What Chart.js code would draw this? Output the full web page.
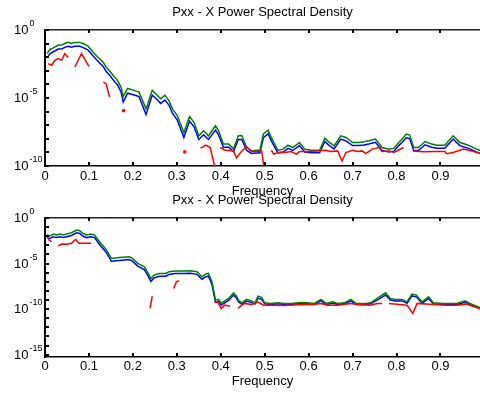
<!DOCTYPE html>
<html>
<head>
<meta charset="utf-8">
<title>Pxx - X Power Spectral Density</title>
<script src="https://cdn.jsdelivr.net/npm/chart.js@4.4.0/dist/chart.umd.min.js"></script>
<style>
  html, body { margin: 0; padding: 0; background: #fff; overflow: hidden; width: 480px; height: 395px; }
  canvas { position: absolute; left: 0; }
  #pxxTop { top: 0; }
  #pxxBottom { top: 188px; }
</style>
</head>
<body>
<canvas id="pxxTop" width="490" height="200"></canvas>
<canvas id="pxxBottom" width="490" height="207"></canvas>
<script>
/* ---- Data: values are log10 of the PSD ---- */

const CHART_TITLE = 'Pxx - X Power Spectral Density';
const X_TITLE = 'Frequency';
const X_MAX = 0.99;
const X_TICKS = [0, 0.1, 0.2, 0.3, 0.4, 0.5, 0.6, 0.7, 0.8, 0.9];
const TOP_Y_TICKS = [1e-10, 1e-5, 1];
const BOTTOM_Y_TICKS = [1e-15, 1e-10, 1e-5, 1];

// top panel
const topFreq = [
  0.005, 0.011, 0.019, 0.030, 0.038, 0.045, 0.053, 0.060, 0.068, 0.079,
  0.086, 0.098, 0.109, 0.120, 0.132, 0.139, 0.147, 0.158, 0.165, 0.173,
  0.178, 0.188, 0.203, 0.214, 0.230, 0.244, 0.256, 0.263, 0.273, 0.282,
  0.290, 0.301, 0.316, 0.329, 0.339, 0.350, 0.361, 0.372, 0.388, 0.395,
  0.406, 0.418, 0.429, 0.440, 0.448, 0.459, 0.470, 0.481, 0.489, 0.497,
  0.508, 0.515, 0.530, 0.542, 0.553, 0.564, 0.579, 0.591, 0.606, 0.625,
  0.637, 0.647, 0.658, 0.673, 0.685, 0.700, 0.715, 0.726, 0.737, 0.752,
  0.767, 0.783, 0.794, 0.805, 0.813, 0.822, 0.830, 0.839, 0.850, 0.865,
  0.880, 0.892, 0.910, 0.929, 0.944, 0.952, 0.967, 0.982, 0.993
];
const topGreen = [
  -1.73, -1.43, -1.31, -1.11, -1.11, -0.99, -0.91, -0.99, -0.91, -0.91,
  -0.99, -1.19, -1.61, -1.98, -2.35, -2.72, -3.01, -3.46, -3.70, -4.20,
  -4.90, -4.30, -4.44, -4.57, -5.80, -4.44, -4.81, -5.06, -4.81, -5.19,
  -5.80, -6.30, -7.53, -6.37, -6.79, -7.78, -7.41, -7.78, -7.04, -7.41,
  -8.39, -8.39, -8.74, -7.78, -7.78, -8.64, -8.89, -8.84, -8.84, -7.65,
  -7.36, -7.90, -8.84, -8.76, -8.47, -8.64, -8.27, -8.76, -8.84, -8.84,
  -7.95, -8.27, -8.52, -7.78, -7.90, -8.27, -8.27, -8.22, -8.15, -8.02,
  -8.64, -8.76, -8.69, -8.27, -8.02, -7.65, -7.73, -8.64, -8.64, -8.20,
  -8.39, -8.47, -8.47, -7.78, -8.27, -8.35, -8.52, -8.76, -8.89
];
const topBlue = [
  -2.05, -1.75, -1.60, -1.40, -1.40, -1.28, -1.20, -1.27, -1.20, -1.20,
  -1.28, -1.48, -1.90, -2.28, -2.66, -3.03, -3.32, -3.78, -4.02, -4.55,
  -5.30, -4.65, -4.78, -4.90, -6.22, -4.78, -5.15, -5.40, -5.15, -5.52,
  -6.12, -6.62, -7.90, -6.70, -7.12, -8.05, -7.70, -8.05, -7.35, -7.70,
  -8.62, -8.62, -8.95, -8.05, -8.05, -8.86, -9.08, -9.05, -9.05, -7.92,
  -7.62, -8.15, -9.03, -8.97, -8.70, -8.86, -8.50, -8.97, -9.03, -9.03,
  -8.20, -8.50, -8.74, -8.02, -8.15, -8.50, -8.50, -8.45, -8.38, -8.26,
  -8.86, -8.97, -8.91, -8.50, -8.26, -7.92, -7.98, -8.86, -8.86, -8.44,
  -8.62, -8.70, -8.70, -8.02, -8.50, -8.58, -8.74, -8.97, -9.10
];
// red has holes (null) where the estimate is not defined
const topRedFreq = [
  0.007, 0.015, 0.023, 0.030, 0.038, 0.045, 0.053, 0.060,
  0.068, 0.083, 0.100, 0.115,
  0.133, 0.139, 0.147, 0.160,
  0.179, 0.250,
  0.318, 0.335,
  0.354, 0.366, 0.376, 0.385, 0.391, 0.395,
  0.399, 0.410, 0.429, 0.436, 0.448, 0.459, 0.470, 0.485, 0.493, 0.497, 0.499, 0.505,
  0.515, 0.521, 0.530, 0.546, 0.560, 0.572, 0.579, 0.598, 0.621, 0.637,
  0.651, 0.666, 0.676, 0.685, 0.700, 0.711, 0.722, 0.730, 0.745, 0.760,
  0.767, 0.783, 0.794, 0.816, 0.826,
  0.837, 0.862, 0.884, 0.910, 0.914, 0.929, 0.944, 0.952, 0.971, 0.982, 0.993
];
const topRed = [
  -2.47, -2.59, -2.22, -2.10, -2.22, -1.73, -2.02, null,
  -2.72, -1.73, -2.67, null,
  -3.83, -3.95, -4.94, null,
  -5.93, null,
  -8.96, null,
  -8.69, -8.47, -8.64, -9.87, -10.74, null,
  -8.64, -8.84, -8.89, -9.39, -8.89, -8.59, -8.94, -8.94, -8.89, -9.76, -10.74, null,
  -8.84, -9.13, -9.01, -9.01, -8.94, -9.13, -8.94, -8.94, -8.89, -8.84,
  -8.94, -8.89, -9.63, -9.01, -8.84, -8.94, -8.89, -9.09, -8.76, -8.64,
  -8.94, -8.89, -9.01, -8.64, null,
  -8.89, -8.96, -8.94, -8.94, -9.09, -9.01, -8.84, -8.76, -8.89, -9.01, -9.11
];

// bottom panel
const bottomFreq = [
  0.004, 0.011, 0.019, 0.026, 0.034, 0.041, 0.049, 0.060, 0.072, 0.079,
  0.086, 0.095, 0.105, 0.113, 0.124, 0.139, 0.151, 0.169, 0.192, 0.199,
  0.211, 0.226, 0.233, 0.241, 0.248, 0.260, 0.275, 0.282, 0.297, 0.316,
  0.331, 0.346, 0.357, 0.366, 0.372, 0.380, 0.388, 0.395, 0.401, 0.409,
  0.418, 0.429, 0.436, 0.440, 0.448, 0.459, 0.470, 0.478, 0.485, 0.493,
  0.500, 0.515, 0.530, 0.546, 0.560, 0.576, 0.591, 0.613, 0.628, 0.640,
  0.655, 0.666, 0.681, 0.696, 0.707, 0.730, 0.741, 0.756, 0.775, 0.786,
  0.798, 0.813, 0.824, 0.835, 0.845, 0.858, 0.873, 0.884, 0.907, 0.937,
  0.956, 0.967, 0.982, 0.993
];
const bottomGreen = [
  -1.87, -1.98, -1.76, -1.87, -1.76, -1.87, -1.76, -1.62, -1.32, -1.40,
  -1.68, -1.87, -1.76, -1.87, -2.60, -3.44, -4.43, -4.34, -4.25, -4.43,
  -4.98, -5.35, -5.90, -6.63, -6.26, -6.08, -6.08, -5.90, -5.82, -5.82,
  -5.79, -5.90, -6.45, -6.15, -6.08, -7.00, -9.01, -8.93, -9.37, -9.09,
  -8.82, -8.21, -8.57, -9.01, -9.31, -8.93, -9.09, -9.31, -8.57, -8.71,
  -9.31, -9.37, -9.31, -9.37, -9.37, -9.31, -9.26, -9.37, -8.93, -9.37,
  -9.20, -9.37, -9.31, -8.93, -9.37, -9.37, -9.31, -8.82, -8.21, -8.82,
  -8.93, -8.93, -9.20, -8.35, -8.46, -9.20, -8.65, -9.31, -9.37, -9.37,
  -9.09, -9.37, -9.67, -9.89
];
const bottomBlue = [
  -2.15, -2.25, -2.05, -2.15, -2.05, -2.15, -2.05, -1.92, -1.62, -1.70,
  -1.98, -2.15, -2.05, -2.15, -2.90, -3.75, -4.75, -4.65, -4.55, -4.73,
  -5.28, -5.65, -6.22, -6.95, -6.58, -6.40, -6.38, -6.20, -6.10, -6.08,
  -6.05, -6.18, -6.72, -6.45, -6.38, -7.30, -9.25, -9.15, -9.55, -9.30,
  -9.05, -8.45, -8.80, -9.20, -9.48, -9.12, -9.28, -9.45, -8.80, -8.92,
  -9.42, -9.48, -9.42, -9.48, -9.48, -9.42, -9.38, -9.48, -9.10, -9.48,
  -9.35, -9.48, -9.42, -9.10, -9.48, -9.48, -9.42, -9.00, -8.45, -9.00,
  -9.10, -9.10, -9.35, -8.55, -8.65, -9.35, -8.85, -9.42, -9.48, -9.48,
  -9.25, -9.48, -9.78, -10.00
];
const bottomRedFreq = [
  0.007, 0.015, 0.022,
  0.030, 0.038, 0.049, 0.060, 0.070, 0.077, 0.090, 0.105, 0.120,
  0.239, 0.244, 0.260,
  0.293, 0.299, 0.305, 0.320,
  0.386, 0.393, 0.401, 0.409, 0.421, 0.430,
  0.439, 0.448, 0.455, 0.470, 0.485, 0.497, 0.515, 0.546, 0.576, 0.613,
  0.628, 0.643, 0.666, 0.696, 0.711, 0.741, 0.756, 0.767, 0.775,
  0.783, 0.801, 0.824, 0.837, 0.847, 0.884, 0.914, 0.937, 0.959, 0.982, 0.993
];
const bottomRed = [
  -2.34, -2.60, null,
  -3.08, -2.86, -2.89, -2.78, -2.34, -2.78, -2.78, -2.78, null,
  -9.92, -8.57, null,
  -7.73, -7.00, -6.89, null,
  -9.31, -9.20, -9.92, -9.56, -9.67, null,
  -9.92, -9.56, -9.37, -9.48, -9.23, -9.56, -9.56, -9.59, -9.53, -9.48,
  -9.37, -9.56, -9.56, -9.37, -9.48, -9.56, -9.37, -9.37, null,
  -9.37, -9.45, -9.56, -10.47, -9.37, -9.48, -9.56, -9.56, -9.45, -9.81, -10.0
];

/* ---- Helpers ---- */

const FONT = "'Liberation Sans', Arial, Helvetica, sans-serif";
const COLORS = { blue: '#0000ff', green: '#008000', red: '#ff0000', axis: '#000000' };

function toPoints(freq, logs) {
  return freq.map((f, i) => ({ x: f, y: logs[i] === null ? null : Math.pow(10, logs[i]) }));
}

// a red sample with no neighbours is shown as a small square, as in the figure
function loneRadius(ctx) {
  const d = ctx.dataset.data;
  const i = ctx.dataIndex;
  if (d[i].y === null) return 0;
  const prevGap = i === 0 || d[i - 1].y === null;
  const nextGap = i === d.length - 1 || d[i + 1].y === null;
  return prevGap && nextGap ? 2.2 : 0;
}

// MATLAB-like inward tick stubs and 10^n labels
const matlabAxes = {
  id: 'matlabAxes',
  afterDraw(chart) {
    const { ctx, chartArea: a, scales: { x, y } } = chart;
    ctx.save();
    ctx.fillStyle = COLORS.axis;

    x.ticks.forEach(t => {
      if (t.value === 0) return;
      const px = Math.round(x.getPixelForValue(t.value));
      ctx.fillRect(px - 1, a.bottom - 4, 2, 4);
      ctx.fillRect(px - 1, a.top, 2, 3);
    });

    const lo = Math.ceil(Math.log10(y.min) - 1e-9);
    const hi = Math.floor(Math.log10(y.max) + 1e-9);
    for (let e = lo; e <= hi; e++) {
      const py = Math.round(y.getPixelForValue(Math.pow(10, e)));
      ctx.fillRect(a.left, py - 1, 4, 2);
    }

    y.ticks.forEach(t => {
      const py = y.getPixelForValue(t.value);
      const exp = String(Math.round(Math.log10(t.value)));
      ctx.textAlign = 'left';
      ctx.textBaseline = 'alphabetic';
      ctx.font = `13px ${FONT}`;
      ctx.fillText('10', 14, py + 4);
      const w = ctx.measureText('10').width;
      ctx.font = `9px ${FONT}`;
      ctx.fillText(exp, 14 + w + 1, py - 4);
    });
    ctx.restore();
  }
};

function makeOptions(p) {
  const tickFont = { family: FONT, size: 13 };
  return {
    responsive: false,
    animation: false,
    events: [],
    layout: { padding: { left: 0, right: 10, top: 0, bottom: 0 } },
    plugins: { legend: { display: false }, tooltip: { enabled: false } },
    elements: {
      line: { borderWidth: 1.5, tension: 0 },
      point: { radius: 0, hoverRadius: 0 }
    },
    scales: {
      x: {
        type: 'linear', position: 'bottom', min: 0, max: X_MAX,
        afterBuildTicks: s => { s.ticks = X_TICKS.map(v => ({ value: v })); },
        afterFit: s => { s.height = p.bottomH; },
        grid: { display: false, drawTicks: false },
        border: { display: true, color: COLORS.axis, width: 1.5 },
        ticks: {
          color: '#000', font: tickFont, padding: p.tickPad,
          maxRotation: 0, autoSkip: false, callback: v => String(v)
        },
        title: {
          display: true, text: X_TITLE, color: '#000', font: tickFont,
          padding: { top: 0, bottom: p.xTitlePad }
        }
      },
      x2: {
        type: 'linear', position: 'top', min: 0, max: X_MAX,
        afterBuildTicks: s => { s.ticks = X_TICKS.map(v => ({ value: v })); },
        afterFit: s => { s.height = 30; },
        grid: { display: false, drawTicks: false },
        border: { display: true, color: '#222', width: 1.5 },
        ticks: { display: false },
        title: {
          display: true, text: CHART_TITLE, color: '#000', font: tickFont,
          padding: { top: 5, bottom: 0 }
        }
      },
      y: {
        type: 'logarithmic', min: p.yMin, max: 1,
        afterBuildTicks: s => { s.ticks = p.yTicks.map(v => ({ value: v })); },
        afterFit: s => { s.width = 45; },
        grid: { display: false, drawTicks: false },
        border: { display: true, color: COLORS.axis, width: 2 },
        ticks: { display: false }
      }
    }
  };
}

function makeDatasets(freq, blue, green, redFreq, red) {
  return [
    { label: 'red', data: toPoints(redFreq, red), borderColor: COLORS.red,
      backgroundColor: COLORS.red, pointStyle: 'rect', pointRadius: loneRadius,
      pointBorderWidth: 0, spanGaps: false, order: 0 },
    { label: 'green', data: toPoints(freq, green), borderColor: COLORS.green, order: 1 },
    { label: 'blue', data: toPoints(freq, blue), borderColor: COLORS.blue, order: 2 }
  ];
}

/* ---- Charts ---- */

new Chart(document.getElementById('pxxTop'), {
  type: 'line',
  data: { datasets: makeDatasets(topFreq, topBlue, topGreen, topRedFreq, topRed) },
  options: makeOptions({ yMin: 1e-10, yTicks: TOP_Y_TICKS, bottomH: 34, tickPad: 3, xTitlePad: 1 }),
  plugins: [matlabAxes]
});

new Chart(document.getElementById('pxxBottom'), {
  type: 'line',
  data: { datasets: makeDatasets(bottomFreq, bottomBlue, bottomGreen, bottomRedFreq, bottomRed) },
  options: makeOptions({ yMin: Math.pow(10, -15.25), yTicks: BOTTOM_Y_TICKS, bottomH: 38, tickPad: 2, xTitlePad: 6 }),
  plugins: [matlabAxes]
});
</script>
</body>
</html>
